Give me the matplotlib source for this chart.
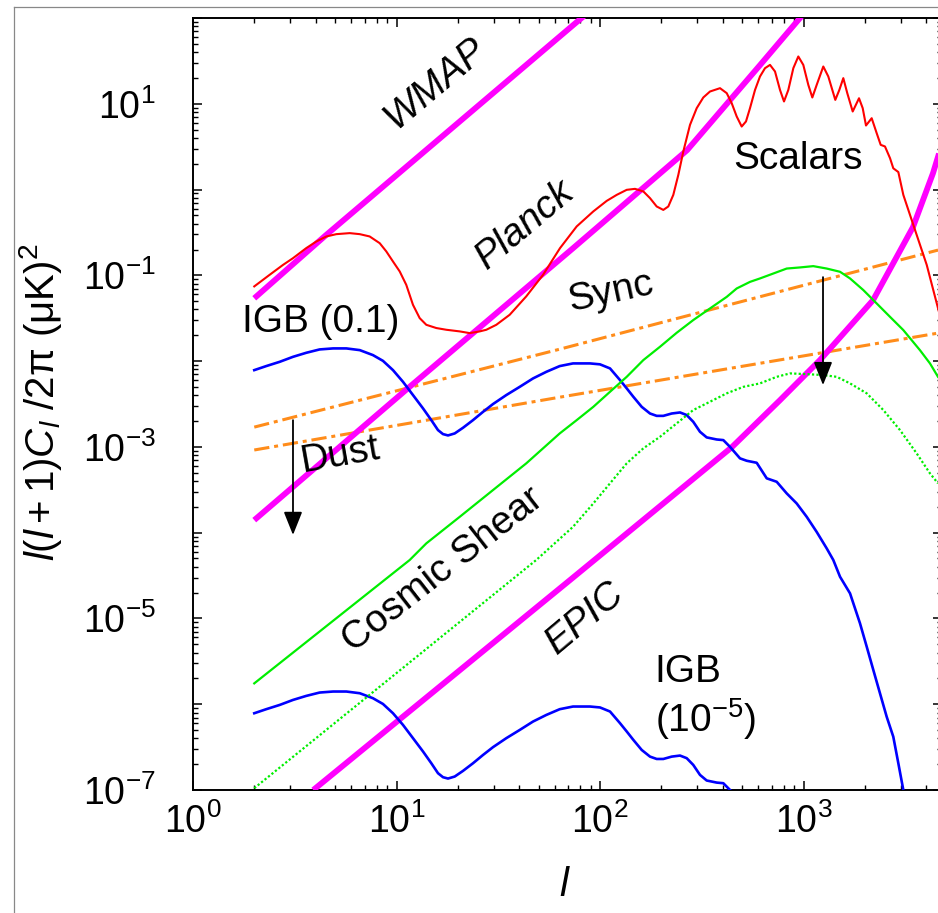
import numpy as np
import matplotlib
matplotlib.use("Agg")
import matplotlib.pyplot as plt
from matplotlib.ticker import LogLocator, FuncFormatter, NullFormatter
from matplotlib.lines import Line2D

plt.rcParams['font.family'] = ['Liberation Sans', 'DejaVu Sans']
plt.rcParams['mathtext.fontset'] = 'custom'
plt.rcParams['mathtext.rm'] = 'Liberation Sans'
plt.rcParams['mathtext.it'] = 'Liberation Sans:italic'
plt.rcParams['mathtext.sf'] = 'Liberation Sans'
plt.rcParams['mathtext.bf'] = 'Liberation Sans:bold'

# ---------------- data ----------------
scalar_l = [2.0, 2.38, 2.77, 3.10, 3.60, 4.04, 4.52, 5.06, 5.89, 6.60, 7.38, 8.27, 8.91,
            9.61, 10.37, 11.17, 12.05, 13.0, 14.01, 15.69, 17.57, 20.45, 22.89, 25.63,
            27.63, 30.93, 36.0, 43.4, 52.5, 63.6, 76.8, 92.7, 107.9, 120.8, 135.3,
            148.6, 163.3, 176.1, 189.9, 204.7, 216.6, 229.2, 242.6, 256.7, 276.9,
            298.7, 321.8, 347.1, 388.8, 419.5, 443.8, 469.6, 496.9, 521.6, 545.9,
            577.8, 611.2, 646.9, 684.6, 724.4, 766.5, 802.1, 842.1, 891.3, 943.0,
            997.7, 1056, 1105, 1161, 1251, 1324, 1433, 1500, 1569, 1641, 1745, 1874,
            1954, 2028, 2163, 2289, 2395, 2514, 2662, 2762, 2924, 3094, 3464, 4032,
            4580, 4959]
scalar_v = [0.0743, 0.1014, 0.1324, 0.1585, 0.2075, 0.2483, 0.2838, 0.302, 0.3105,
            0.302, 0.284, 0.237, 0.190, 0.145, 0.111, 0.0774, 0.0453, 0.0317, 0.0265,
            0.0243, 0.0232, 0.0222, 0.0212, 0.0222, 0.0232, 0.0265, 0.0347, 0.0568,
            0.1014, 0.2075, 0.3715, 0.556, 0.738, 0.867, 0.993, 1.019, 0.951, 0.794,
            0.635, 0.579, 0.635, 0.867, 1.483, 2.78, 5.68, 8.89, 11.84, 13.9, 15.2,
            13.3, 10.16, 7.11, 5.43, 6.22, 8.89, 14.5, 20.8, 26.0, 28.4, 23.8, 14.5,
            10.64, 14.5, 26.0, 35.6, 28.4, 16.6, 11.84, 16.6, 27.2, 20.8, 11.1, 14.5,
            19.9, 13.3, 8.13, 11.6, 8.89, 5.58, 6.79, 4.54, 3.32, 3.18, 2.32, 1.77,
            1.60, 0.867, 0.388, 0.1324, 0.0415, 0.0201]

igb_l = [2.0, 2.29, 2.67, 3.10, 3.60, 4.19, 4.88, 5.67, 6.60, 7.66, 8.58, 9.61, 10.76,
         12.05, 13.50, 14.83, 15.99, 16.92, 17.91, 19.32, 21.22, 23.76, 26.61, 29.81,
         34.64, 40.31, 46.86, 54.47, 63.39, 73.68, 89.3, 100, 112.0, 125.4, 135.3,
         145.8, 160.3, 176.1, 189.9, 204.7, 225.1, 247.3, 266.7, 287.3, 310.0, 334.4,
         374.5, 403.6, 435.5, 487.5, 526.0, 588.8, 659.6, 738.4, 826.9, 925.9, 1037,
         1161, 1300, 1401, 1512, 1693, 1895, 2045, 2203, 2376, 2563, 2762, 2924,
         3094, 3190]
igb_v = [7.85e-3, 8.75e-3, 9.82e-3, 1.122e-2, 1.250e-2, 1.368e-2, 1.406e-2, 1.406e-2,
         1.343e-2, 1.175e-2, 1.007e-2, 7.85e-3, 5.74e-3, 4.02e-3, 2.81e-3, 2.05e-3,
         1.57e-3, 1.41e-3, 1.36e-3, 1.435e-3, 1.67e-3, 2.05e-3, 2.56e-3, 3.16e-3,
         4.02e-3, 5.01e-3, 6.28e-3, 7.50e-3, 8.75e-3, 9.40e-3, 9.40e-3, 9.17e-3,
         8.22e-3, 6.01e-3, 4.81e-3, 3.84e-3, 2.93e-3, 2.45e-3, 2.30e-3, 2.30e-3,
         2.45e-3, 2.52e-3, 2.35e-3, 1.96e-3, 1.50e-3, 1.29e-3, 1.22e-3, 1.20e-3,
         1.00e-3, 7.35e-4, 6.89e-4, 6.53e-4, 4.30e-4, 3.92e-4, 2.87e-4, 2.19e-4,
         1.53e-4, 1.02e-4, 6.56e-5, 4.80e-5, 3.06e-5, 1.96e-5, 8.77e-6, 4.68e-6,
         2.51e-6, 1.34e-6, 7.15e-7, 4.18e-7, 2.05e-7, 1.0e-7, 5.8e-8]
igb_scale_upper = 1.0      # "IGB (0.1)" curve as plotted
igb_scale_lower = 1.0e-4   # "IGB (10^-5)" curve: same shape, 4 decades lower

shear_l = [2.0, 11.61, 14.01, 20.45, 29.81, 43.43, 63.39, 76.8, 92.7, 112.0, 135.3,
           163.3, 197.1, 238.2, 287.3, 347.1, 419.5, 469.6, 545.9, 611.2, 710.6, 826.9,
           961, 1117, 1300, 1512, 1693, 1968, 2289, 2662, 3094, 3736, 4183, 4580]
shear_v = [1.75e-6, 4.80e-5, 7.50e-5, 1.53e-4, 3.14e-4, 6.43e-4, 1.435e-3, 2.05e-3,
           2.93e-3, 4.39e-3, 6.56e-3, 1.028e-2, 1.469e-2, 2.14e-2, 3.01e-2, 4.11e-2,
           5.61e-2, 7.03e-2, 8.39e-2, 9.20e-2, 0.105, 0.120, 0.1236, 0.128, 0.120,
           0.110, 9.20e-2, 6.73e-2, 4.70e-2, 3.28e-2, 2.30e-2, 1.34e-2, 9.40e-3,
           6.56e-3]

shear_red_l = [2.0, 48.6, 73.68, 92.7, 112.0, 135.3, 163.3, 197.1, 238.2, 287.3, 347.1,
               419.5, 506.1, 611.2, 738.4, 858.6, 1037, 1251, 1456, 1693, 2045, 2467,
               2980, 3600, 4183, 4580]
shear_red_v = [1.05e-7, 4.80e-5, 1.17e-4, 2.19e-4, 3.76e-4, 6.43e-4, 9.62e-4, 1.31e-3,
               1.88e-3, 2.69e-3, 3.36e-3, 4.21e-3, 5.01e-3, 5.50e-3, 6.56e-3, 7.19e-3,
               7.05e-3, 6.87e-3, 6.56e-3, 5.50e-3, 4.21e-3, 2.69e-3, 1.57e-3, 8.39e-4,
               4.91e-4, 3.76e-4]

wmap_l = [2, 4.5, 73.7, 95]
wmap_v = [0.054, 0.294, 82.4, 137]

planck_l = [2, 11.4, 73.7, 268, 611, 961, 1050]
planck_v = [1.40e-4, 4.84e-3, 0.207, 2.88, 28.2, 100, 128]

epic_l = [3.9, 71.2, 445, 766, 1205, 2197, 3451, 4328, 4688]
epic_v = [1.0e-7, 2.8e-5, 9.95e-4, 3.5e-3, 1.03e-2, 5.14e-2, 0.365, 1.55, 2.88]

sync_l = [2, 63.6, 4583]
sync_v = [1.7e-3, 1.38e-2, 0.197]

dust_l = [2, 63.6, 4583]
dust_v = [9.2e-4, 3.8e-3, 2.12e-2]

# arrows: (l, from, to)
dust_arrow = (3.1, 2.05e-3, 9.4e-5)
shear_arrow = (1247, 9.53e-2, 5.25e-3)

# ---------------- figure ----------------
W, H = 938, 913
fig = plt.figure(figsize=(W / 100, H / 100), dpi=100)
ax = fig.add_axes([193 / W, 1 - 790 / H, (942 - 193) / W, (790 - 18) / H])

# outer frame lines
fig.add_artist(Line2D([14 / W, 14 / W], [0, 1 - 7 / H], color='#888888', lw=0.9,
                      transform=fig.transFigure))
fig.add_artist(Line2D([14 / W, 1], [1 - 7 / H, 1 - 7 / H], color='#888888', lw=0.9,
                      transform=fig.transFigure))

mag = '#ff00ff'
for xs, ys in ((wmap_l, wmap_v), (planck_l, planck_v), (epic_l, epic_v)):
    ax.plot(xs, ys, color=mag, lw=4.2, solid_capstyle='butt', zorder=3)

ax.plot(scalar_l, scalar_v, color='#ff0000', lw=1.5, zorder=4)

ax.plot(igb_l, np.array(igb_v) * igb_scale_upper, color='#0000ff', lw=1.9, zorder=4)
ax.plot(igb_l, np.array(igb_v) * igb_scale_lower, color='#0000ff', lw=1.9, zorder=4)

ax.plot(shear_l, shear_v, color='#00ee00', lw=1.6, zorder=4)
ax.plot(shear_red_l, shear_red_v, color='#00ee00', lw=1.6, ls=(0, (1, 1)), zorder=4)

orange = '#ff8c1a'
ax.plot(sync_l, sync_v, color=orange, lw=2.2, ls=(0, (5, 1.6, 1.3, 1.6)), zorder=2)
ax.plot(dust_l, dust_v, color=orange, lw=2.2, ls=(0, (5, 1.6, 1.3, 1.6)), zorder=2)

for (xa, y0, y1) in (dust_arrow, shear_arrow):
    ax.annotate('', xy=(xa, y1), xytext=(xa, y0),
                arrowprops=dict(arrowstyle='-|>,head_length=0.55,head_width=0.22',
                                color='black', lw=1.3,
                                mutation_scale=26, shrinkA=0, shrinkB=0),
                zorder=6)

ax.set_xscale('log')
ax.set_yscale('log')
ax.set_xlim(1, 10 ** ((942 - 193) / 203.5))
ax.set_ylim(1e-7, 1e2)

ax.xaxis.set_major_locator(LogLocator(base=10, numticks=20))
ax.xaxis.set_minor_locator(LogLocator(base=10, subs=np.arange(2, 10), numticks=40))
ax.yaxis.set_major_locator(LogLocator(base=10, numticks=20))
ax.yaxis.set_minor_locator(LogLocator(base=10, subs=np.arange(2, 10), numticks=40))
ax.xaxis.set_minor_formatter(NullFormatter())
ax.yaxis.set_minor_formatter(NullFormatter())


def xfmt(v, pos):
    e = int(round(np.log10(v)))
    return r'$\mathdefault{10^{%d}}$' % e


def yfmt(v, pos):
    e = int(round(np.log10(v)))
    if e % 2 == 0:
        return ''
    return r'$\mathdefault{10^{%d}}$' % e


ax.xaxis.set_major_formatter(FuncFormatter(xfmt))
ax.yaxis.set_major_formatter(FuncFormatter(yfmt))

ax.tick_params(which='both', direction='in', top=True, right=True, colors='black')
ax.tick_params(which='major', length=6.5, width=1.1)
ax.tick_params(which='minor', length=3.6, width=1.0)
ax.tick_params(axis='x', which='major', labelsize=27, pad=10)
ax.tick_params(axis='y', which='major', labelsize=27, pad=27)
for s in ax.spines.values():
    s.set_linewidth(1.4)

fs = 28
ax.text(15.5, 17.4, 'WMAP', fontsize=fs, style='italic', rotation=40,
        ha='center', va='center')
ax.text(42.8, 0.385, 'Planck', fontsize=fs, style='italic', rotation=40,
        ha='center', va='center')
ax.text(939, 2.26, 'Scalars', fontsize=fs, ha='center', va='center')
ax.text(113, 0.0637, 'Sync', fontsize=fs, rotation=12, ha='center', va='center')
ax.text(4.26, 0.0285, 'IGB (0.1)', fontsize=fs, ha='center', va='center')
ax.text(5.28, 8.0e-4, 'Dust', fontsize=fs, rotation=10, ha='center', va='center')
ax.text(16.9, 3.66e-5, 'Cosmic Shear', fontsize=fs, rotation=38,
        ha='center', va='center')
ax.text(84.4, 1.01e-5, 'EPIC', fontsize=fs, style='italic', rotation=40,
        ha='center', va='center')
ax.text(186, 2.37e-6, 'IGB', fontsize=fs, ha='left', va='center')
ax.text(186, 6.7e-7, r'(10$^{-5}$)', fontsize=fs, ha='left', va='center')

fig.text(40 / W, 1 - 402 / H, r'$l(l+1)C_l$ /2π (μK)$^2$', fontsize=29,
         rotation=90, ha='center', va='center')
fig.text(565 / W, 1 - 885 / H, r'$l$', fontsize=29, ha='center', va='center')

fig.savefig('out.png', dpi=100)
